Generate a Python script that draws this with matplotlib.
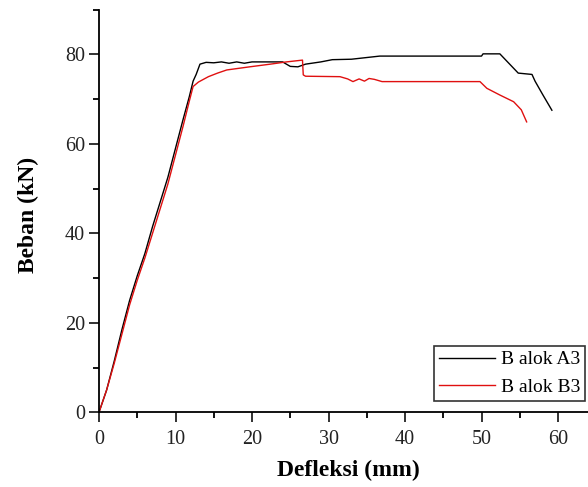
import matplotlib
matplotlib.use("Agg")
import matplotlib.pyplot as plt
from matplotlib.ticker import MultipleLocator

plt.rcParams['font.family'] = ['Liberation Serif', 'DejaVu Serif']

# Balok A3 (black)
a3_x = [0, 1, 2, 3, 4, 5, 6, 7, 8, 9, 10, 11, 11.8, 12.3, 12.7, 13.2, 14, 15, 16, 17,
        18, 19, 20, 22, 24, 25, 26, 27, 29, 30.5, 33, 36.7, 50, 50.2, 52.4, 54.8,
        56.6, 57, 58, 59.2]
a3_y = [0, 5, 11.5, 18.5, 25, 30.5, 35.5, 41.5, 47, 52.5, 59, 65.5, 70.5, 74, 75.5,
        77.8, 78.2, 78.1, 78.3, 78.0, 78.3, 78.0, 78.3, 78.3, 78.3, 77.3, 77.2, 77.8,
        78.3, 78.8, 78.9, 79.6, 79.6, 80.1, 80.1, 75.8, 75.5, 74, 71, 67.5]

# Balok B3 (red)
b3_x = [0, 1, 2, 3, 4, 5, 6, 7, 8, 9, 10, 11, 11.8, 12.3, 13, 14.3, 15.5, 16.7, 19.7,
        22.4, 24.5, 26.6, 26.7, 27, 31.5, 32.5, 33.2, 34, 34.7, 35.3, 36, 37, 49.8,
        50.7, 52.4, 54.2, 55.2, 55.9]
b3_y = [0, 5, 11, 17.5, 24, 29.5, 34.5, 40, 45.5, 51, 57.5, 64, 69.5, 72.8, 73.8, 75.0,
        75.8, 76.5, 77.2, 77.8, 78.3, 78.7, 75.4, 75.1, 75.0, 74.5, 73.9, 74.5, 74.0,
        74.6, 74.4, 73.9, 73.9, 72.4, 70.9, 69.4, 67.6, 64.9]

labels = ["B alok A3", "B alok B3"]

fig = plt.figure(figsize=(5.88, 4.87), dpi=100)
# axes run past the right edge, as in the cropped original
ax = fig.add_axes([99 / 588, 74.7 / 487, 535.5 / 588, 402.75 / 487])

ax.plot(a3_x, a3_y, color='black', lw=1.0, label=labels[0])
ax.plot(b3_x, b3_y, color='#e01010', lw=1.0, label=labels[1])

ax.set_xlim(0, 70)
ax.set_ylim(0, 90)
ax.spines['top'].set_visible(False)
ax.spines['right'].set_visible(False)
for s in ['left', 'bottom']:
    ax.spines[s].set_linewidth(1.3)

ax.xaxis.set_major_locator(MultipleLocator(10))
ax.xaxis.set_minor_locator(MultipleLocator(5))
ax.yaxis.set_major_locator(MultipleLocator(20))
ax.yaxis.set_minor_locator(MultipleLocator(10))
ax.tick_params(which='major', direction='out', length=7, width=1.3, labelsize=14.5,
               pad=3, colors='#222222')
ax.tick_params(axis='x', which='major', pad=6)
ax.tick_params(which='minor', direction='out', length=4, width=1.3)

ax.set_xlabel("Defleksi (mm)", fontsize=17, fontweight='bold')
ax.xaxis.set_label_coords(0.465, -0.118)
ax.set_ylabel("Beban (kN)", fontsize=17, fontweight='bold')
ax.yaxis.set_label_coords(-0.112, 0.49)

leg = fig.legend(loc='upper left', bbox_to_anchor=(434 / 588, 1 - 346 / 487),
                 fontsize=14, frameon=True, fancybox=False, borderaxespad=0,
                 handlelength=2.9, handletextpad=0.3, borderpad=0.25,
                 labelspacing=0.5)
leg.get_frame().set_edgecolor('black')
leg.get_frame().set_linewidth(1.2)

fig.savefig("out.png", dpi=100)
